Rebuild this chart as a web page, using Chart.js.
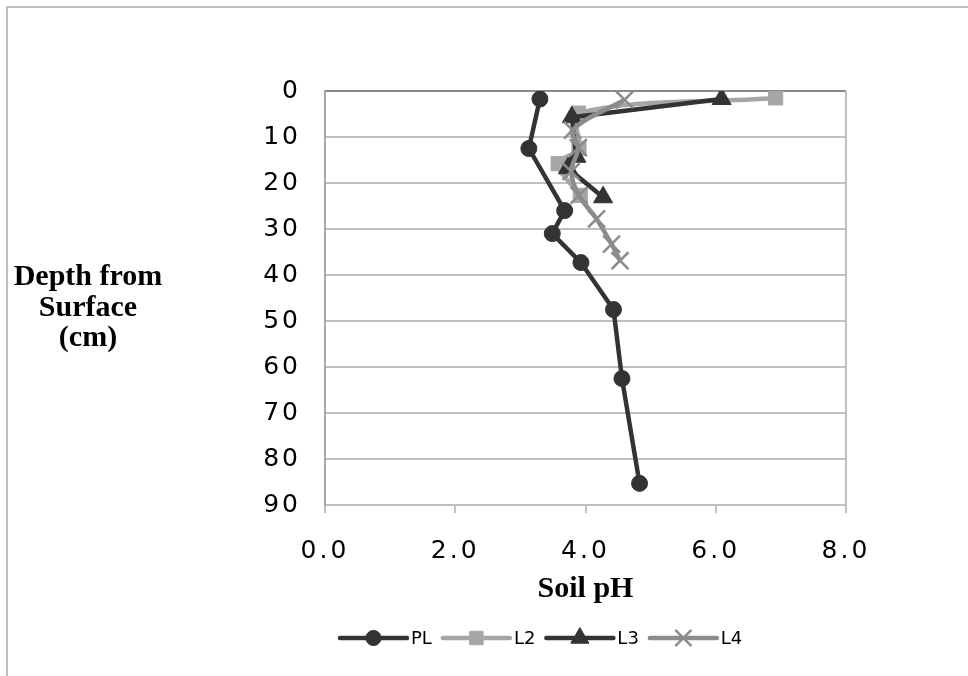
<!DOCTYPE html>
<html>
<head>
<meta charset="utf-8">
<script src="https://cdn.jsdelivr.net/npm/chart.js@4.4.0/dist/chart.umd.min.js"></script>
<style>
  html, body { margin: 0; padding: 0; background: #fff; }
  #wrap { position: relative; width: 968px; height: 676px; }
</style>
</head>
<body>
<div id="wrap"><canvas id="chart" width="968" height="676"></canvas></div>
<script>
// Profils de sol : profondeur (cm) et pH mesuré
const seriesNames = ['PL', 'L2', 'L3', 'L4'];

const plDepth = [1.75, 12.5, 26, 31, 37.3, 47.5, 62.5, 85.3];
const plPH    = [3.30, 3.13, 3.68, 3.49, 3.93, 4.43, 4.56, 4.83];

const l2Depth = [1.5, 4.8, 12.5, 15.8, 22.7];
const l2PH    = [6.92, 3.89, 3.90, 3.58, 3.92];

const l3Depth = [1.75, 5.7, 14.3, 16.8, 23.1];
const l3PH    = [6.09, 3.79, 3.86, 3.73, 4.27];

const l4Depth = [1.9, 8.5, 12.3, 17.5, 22.7, 27.8, 33.3, 36.9];
const l4PH    = [4.60, 3.80, 3.89, 3.78, 3.90, 4.17, 4.40, 4.53];

const xTickValues = [0, 2, 4, 6, 8];
const xTickLabels = ['0.0', '2.0', '4.0', '6.0', '8.0'];
const yTickValues = [0, 10, 20, 30, 40, 50, 60, 70, 80, 90];
const yTickLabels = ['0', '10', '20', '30', '40', '50', '60', '70', '80', '90'];
const xTitle = 'Soil pH';
const yTitleLines = ['Depth from', 'Surface', '(cm)'];

// construire les points {x: pH, y: profondeur}
function toPoints(ph, depth) {
  return ph.map((v, i) => ({ x: v, y: depth[i] }));
}

const tickFont = { family: 'DejaVu Sans', size: 25 };

const datasets = [
  {
    label: seriesNames[0], data: toPoints(plPH, plDepth),
    borderColor: '#333333', backgroundColor: '#333333',
    pointBorderColor: '#333333', pointBackgroundColor: '#333333',
    borderWidth: 4.5, pointStyle: 'circle', pointRadius: 8, pointBorderWidth: 1,
    tension: 0, order: 4
  },
  {
    label: seriesNames[1], data: toPoints(l2PH, l2Depth),
    borderColor: '#a6a6a6', backgroundColor: '#a6a6a6',
    pointBorderColor: '#a6a6a6', pointBackgroundColor: '#a6a6a6',
    borderWidth: 4.5, pointStyle: 'rect', pointRadius: 10, pointBorderWidth: 1,
    tension: 0.35, order: 3
  },
  {
    label: seriesNames[2], data: toPoints(l3PH, l3Depth),
    borderColor: '#333333', backgroundColor: '#333333',
    pointBorderColor: '#333333', pointBackgroundColor: '#333333',
    borderWidth: 4.5, pointStyle: 'triangle', pointRadius: 11, pointBorderWidth: 1,
    tension: 0, order: 2
  },
  {
    label: seriesNames[3], data: toPoints(l4PH, l4Depth),
    borderColor: '#8c8c8c', backgroundColor: '#8c8c8c',
    pointBorderColor: '#8c8c8c', pointBackgroundColor: '#8c8c8c',
    borderWidth: 4.5, pointStyle: 'crossRot', pointRadius: 12, pointBorderWidth: 2.5,
    tension: 0.35, order: 1
  }
];

// Cadre extérieur + bord droit de la zone de tracé
const framePlugin = {
  id: 'frame',
  beforeDraw(chart) {
    const c = chart.ctx;
    c.save();
    c.fillStyle = '#fff';
    c.fillRect(0, 0, chart.width, chart.height);
    c.strokeStyle = '#bfbfbf';
    c.lineWidth = 2;
    c.strokeRect(7, 7, chart.width + 20, chart.height + 20);
    c.restore();
    // police des graduations un peu espacée
    c.letterSpacing = '3px';
  },
  beforeDatasetsDraw(chart) {
    const a = chart.chartArea;
    const c = chart.ctx;
    c.save();
    c.strokeStyle = '#bfbfbf';
    c.lineWidth = 2;
    c.beginPath();
    c.moveTo(a.right, a.top);
    c.lineTo(a.right, a.bottom);
    c.stroke();
    c.restore();
  },
  afterDraw(chart) {
    chart.ctx.letterSpacing = '0px';
  }
};

// Titres des axes (le titre vertical reste horizontal, sur trois lignes)
const axisTitlePlugin = {
  id: 'axisTitles',
  afterDraw(chart) {
    const c = chart.ctx;
    const a = chart.chartArea;
    c.save();
    c.letterSpacing = '0px';
    c.font = 'bold 30px "Liberation Serif"';
    c.fillStyle = '#000';
    c.textAlign = 'center';
    c.textBaseline = 'alphabetic';
    yTitleLines.forEach((t, i) => c.fillText(t, 88, 285 + i * 30.5));
    c.fillText(xTitle, (a.left + a.right) / 2, 597);
    c.restore();
  }
};

// Légende avec ligne + marqueur, comme dans Excel
const legendPlugin = {
  id: 'lineLegend',
  afterDraw(chart) {
    const c = chart.ctx;
    const y = 638;
    let x = 340;
    c.save();
    c.letterSpacing = '0px';
    c.font = '18px "DejaVu Sans"';
    c.textBaseline = 'middle';
    c.textAlign = 'left';
    chart.data.datasets.forEach(ds => {
      c.strokeStyle = ds.borderColor;
      c.lineWidth = ds.borderWidth;
      c.lineCap = 'round';
      c.beginPath();
      c.moveTo(x, y);
      c.lineTo(x + 67, y);
      c.stroke();
      c.fillStyle = ds.pointBackgroundColor;
      c.strokeStyle = ds.pointBorderColor;
      c.lineWidth = ds.pointBorderWidth;
      c.lineCap = 'butt';
      Chart.helpers.drawPoint(c, {
        pointStyle: ds.pointStyle, radius: ds.pointRadius * 0.95, rotation: 0, borderWidth: ds.pointBorderWidth
      }, x + 33.5, y);
      c.fillStyle = '#000';
      c.fillText(ds.label, x + 71, y + 1);
      x += 71 + c.measureText(ds.label).width + 11;
    });
    c.restore();
  }
};

new Chart(document.getElementById('chart').getContext('2d'), {
  type: 'scatter',
  data: { datasets: datasets.map(d => Object.assign({ showLine: true }, d)) },
  options: {
    responsive: false,
    animation: false,
    events: [],
    layout: { padding: { top: 91, right: 122, bottom: 72, left: 0 } },
    scales: {
      x: {
        type: 'linear', min: 0, max: 8,
        ticks: {
          stepSize: 2, color: '#000', font: tickFont, padding: 23,
          callback: v => xTickLabels[xTickValues.indexOf(v)]
        },
        grid: { drawOnChartArea: false, drawTicks: true, tickLength: 8, color: '#bfbfbf', lineWidth: 2 },
        border: { display: false },
        afterFit: s => { s.height = 99; }
      },
      y: {
        type: 'linear', reverse: true, min: 0, max: 90,
        ticks: {
          stepSize: 10, color: '#000', font: tickFont, padding: 24,
          callback: v => yTickLabels[yTickValues.indexOf(v)]
        },
        grid: {
          drawTicks: false,
          color: c => (c.tick && c.tick.value === 0 ? '#8a8a8a' : '#bfbfbf'),
          lineWidth: 2
        },
        border: { color: '#a6a6a6', width: 2 },
        afterFit: s => { s.width = 325; }
      }
    },
    plugins: { legend: { display: false }, tooltip: { enabled: false } }
  },
  plugins: [framePlugin, axisTitlePlugin, legendPlugin]
});
</script>
</body>
</html>
